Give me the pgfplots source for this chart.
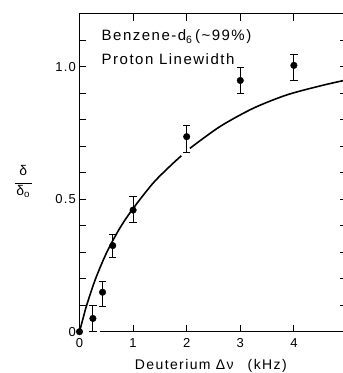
\documentclass[border=0pt]{standalone}
\usepackage{fontspec}
\setmainfont{Liberation Sans}[LetterSpace=10]
\usepackage{pgfplots}
\pgfplotsset{compat=1.18}
\begin{document}
\begin{tikzpicture}[font=\fontsize{13}{15}\selectfont]
\useasboundingbox (-79.5pt,-41.3pt) rectangle (263.5pt,331.7pt);
\begin{axis}[
  name=ax, at={(0,0)}, anchor=south west,
  scale only axis, width=268pt, height=318pt,
  xmin=0, xmax=5, ymin=0, ymax=1.2,
  clip=false,
  /pgf/number format/assume math mode=true,
  xtick={0,1,2,3,4}, xticklabels={0,1,2,3,4},
  ytick={0,0.5,1.0}, yticklabels={0,0.5,1.0},
  minor ytick={0.1,0.2,0.3,0.4,0.6,0.7,0.8,0.9,1.1},
  tick align=inside, major tick length=7pt, minor tick length=7pt,
  tick style={black, line width=0.9pt},
  axis line style={line width=1.2pt},
  xticklabel style={anchor=base, yshift=-15.5pt},
  xlabel={Deuterium Δν\quad(kHz)},
  xlabel style={at={(axis description cs:0.49,0)}, anchor=base, yshift=-37.5pt,
    font=\fontsize{14}{16}\selectfont},
]
\draw[white, line width=2.6pt] (axis cs:0.07,0) -- (axis cs:0.38,0);
\addplot[black, smooth, line width=1.6pt, mark=none] coordinates {
(0,0) (0.07,0.053) (0.134,0.1) (0.30,0.2) (0.51,0.3) (0.75,0.39) (1.0,0.465)
(1.37,0.56) (1.69,0.625) (1.9,0.664)};
\addplot[black, smooth, line width=1.6pt, mark=none] coordinates {
(2.06,0.692) (2.62,0.774) (3.24,0.843) (3.86,0.893) (4.48,0.927) (4.91,0.947) (5,0.95)};
\addplot[black, only marks, mark=*, mark size=3.3pt,
  error bars/.cd, y dir=both, y explicit,
  error bar style={line width=0.9pt},
  error mark=-,
  error mark options={rotate=90, black, mark size=3.7pt, line width=0.9pt}]
  table[x=x, y=y, y error plus=ep, y error minus=em] {
x y ep em
0.25 0.050 0.048 0.050
0.43 0.149 0.042 0.055
0.62 0.325 0.042 0.046
1.00 0.459 0.050 0.046
2.00 0.736 0.044 0.061
3.00 0.948 0.051 0.048
4.00 1.005 0.042 0.055
};
\addplot[black, only marks, mark=*, mark size=3.3pt] coordinates {(0,0)};
\node[anchor=base west, inner sep=0pt, font=\fontsize{15}{17}\selectfont]
  at (axis cs:0.41,1.097)
  {Benzene-d\textsubscript{6}\,(\textasciitilde 99\%)};
\node[anchor=base west, inner sep=0pt, font=\fontsize{15}{17}\selectfont]
  at (axis cs:0.41,1.01)
  {Proton Linewidth};
\node[inner sep=0pt, align=center, font=\fontsize{14}{16}\selectfont]
  at (axis description cs:-0.21,0.47)
  {\setlength{\tabcolsep}{0pt}\renewcommand{\arraystretch}{0.9}%
   \begin{tabular}{c}δ\\[-6pt]\rule{17pt}{0.9pt}\\[-3pt]δ\textsubscript{o}\end{tabular}};
\end{axis}
\end{tikzpicture}
\end{document}
